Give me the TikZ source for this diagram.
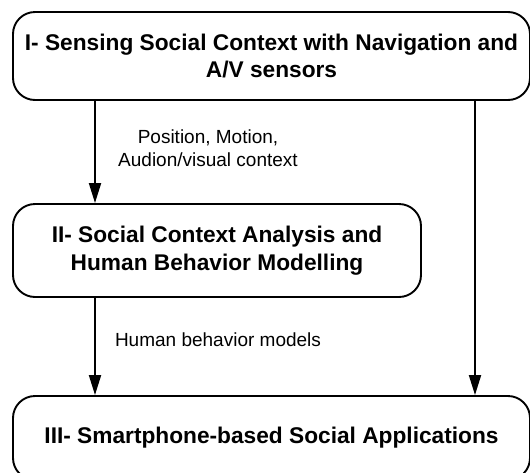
\documentclass[tikz,border=0pt]{standalone}
\usepackage{fontspec}
\setmainfont{Liberation Sans}
\usetikzlibrary{arrows.meta}

\begin{document}
\begin{tikzpicture}[x=1pt,y=-1pt,
   stage/.style={draw,line width=1.9pt,rounded corners=22pt,align=center,inner sep=0pt,
                 font=\fontsize{22.7}{27.5}\selectfont\bfseries},
   flow/.style={line width=1.9pt,-{Triangle[length=20pt,width=12pt]}},
   note/.style={align=center,font=\fontsize{19}{23}\selectfont}]
   \useasboundingbox (0,0) rectangle (530,472);
   \clip (0,0) rectangle (530,472);
   % the three stages
   \node[stage,minimum width=517pt,minimum height=88pt] (sense) at (271.5,56)
      {I- Sensing Social Context with Navigation and\\A/V sensors};
   \node[stage,minimum width=408pt,minimum height=93pt] (analysis) at (217,250.5)
      {II- Social Context Analysis and\\Human Behavior Modelling};
   \node[stage,minimum width=517pt,minimum height=84pt] (apps) at (271.5,438)
      {III- Smartphone-based Social Applications};
   % arrows
   \coordinate (lx) at (95,0);
   \coordinate (rx) at (475,0);
   \draw[flow] (sense.south -| lx) -- (analysis.north -| lx);
   \draw[flow] (analysis.south -| lx) -- (apps.north -| lx);
   \draw[flow] (sense.south -| rx) -- (apps.north -| rx);
   % labels
   \node[note] (ctx) at (208,148) {Position, Motion,\\Audion/visual context};
   \node[note] (models) at (218,340) {Human behavior models};
\end{tikzpicture}
\end{document}
